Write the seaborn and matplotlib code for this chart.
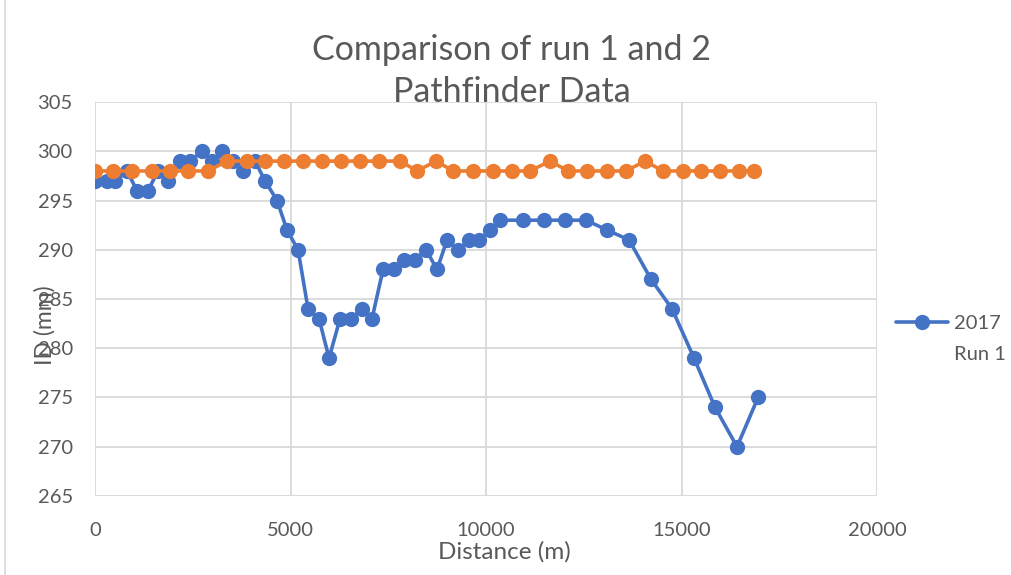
import pandas as pd
import numpy as np
import matplotlib.pyplot as plt
import seaborn as sns
from matplotlib.lines import Line2D

# run 1 (2017) - distance (m) and internal diameter (mm)
run1_dist = [0, 307, 511, 818, 1074, 1355, 1611, 1867, 2174, 2430, 2737, 2992, 3248,
             3529, 3785, 4092, 4348, 4655, 4910, 5192, 5448, 5729, 5985, 6266, 6547,
             6829, 7084, 7366, 7647, 7903, 8184, 8465, 8747, 9003, 9284, 9565, 9821,
             10102, 10358, 10946, 11483, 12020, 12558, 13095, 13657, 14220, 14757,
             15320, 15857, 16419, 16957]
run1_id = [297, 297, 297, 298, 296, 296, 298, 297, 299, 299, 300, 299, 300,
           299, 298, 299, 297, 295, 292, 290, 284, 283, 279, 283, 283,
           284, 283, 288, 288, 289, 289, 290, 288, 291, 290, 291, 291,
           292, 293, 293, 293, 293, 293, 292, 291, 287, 284,
           279, 274, 270, 275]

# run 2
run2_dist = [0, 460, 946, 1458, 1918, 2379, 2890, 3376, 3887, 4348, 4834, 5320,
             5806, 6292, 6777, 7263, 7801, 8235, 8721, 9156, 9668, 10179, 10665,
             11125, 11637, 12097, 12583, 13095, 13581, 14066, 14527, 15038, 15499,
             15985, 16471, 16854]
run2_id = [298, 298, 298, 298, 298, 298, 298, 299, 299, 299, 299, 299,
           299, 299, 299, 299, 299, 298, 299, 298, 298, 298, 298,
           298, 299, 298, 298, 298, 298, 299, 298, 298, 298,
           298, 298, 298]

run1 = pd.DataFrame({"dist": run1_dist, "id": run1_id})
run2 = pd.DataFrame({"dist": run2_dist, "id": run2_id})

sns.set_style("white")
plt.rcParams['font.family'] = ['Lato', 'DejaVu Sans']

grey = "#595959"
fig = plt.figure(figsize=(10.11, 5.75), dpi=100)
fig.add_artist(Line2D([4.5 / 1011, 4.5 / 1011], [0, 1], color="#d9d9d9", linewidth=1.2))
ax = fig.add_axes([0.094, 0.1374, 0.7735, 0.6852])

sns.lineplot(data=run1, x="dist", y="id", ax=ax, color="#4472C4", marker="o",
             markersize=11, markeredgewidth=0, linewidth=2.6, label="2017")
sns.lineplot(data=run2, x="dist", y="id", ax=ax, color="#ED7D31", marker="o",
             markersize=11, markeredgewidth=0, linewidth=2.6, legend=False)

ax.set_xlim(0, 20000)
ax.set_ylim(265, 305)
ax.set_xticks(np.arange(0, 20001, 5000))
ax.set_yticks(np.arange(265, 306, 5))
ax.grid(True, color="#d9d9d9", linewidth=1.3)
ax.set_axisbelow(True)
for s in ax.spines.values():
    s.set_visible(False)
ax.tick_params(length=0, labelsize=14.5, labelcolor=grey)
ax.tick_params(axis="x", pad=19)
ax.tick_params(axis="y", pad=16)

ax.set_xlabel("Distance (m)", fontsize=17.5, color=grey, va="center")
ax.xaxis.set_label_coords(0.523, -0.142)
ax.set_ylabel("ID (mm)", fontsize=16.5, color=grey, va="center")
ax.yaxis.set_label_coords(-0.064, 0.434)

fig.text(0.506, 1 - 71 / 575, "Comparison of run 1 and 2\nPathfinder Data", ha="center",
         va="center", fontsize=24.5, color=grey, linespacing=1.42)

ax.get_legend().remove()
fig.legend(*ax.get_legend_handles_labels(), loc="center left",
           bbox_to_anchor=(0.886, 1 - 323 / 575), frameon=False, fontsize=14.5,
           labelcolor=grey, handlelength=2.6, handletextpad=0.3,
           borderaxespad=0, borderpad=0)
fig.text(954 / 1011, 1 - 355 / 575, "Run 1", ha="left", va="center",
         fontsize=14.5, color=grey)

fig.savefig("out.png", dpi=100)
